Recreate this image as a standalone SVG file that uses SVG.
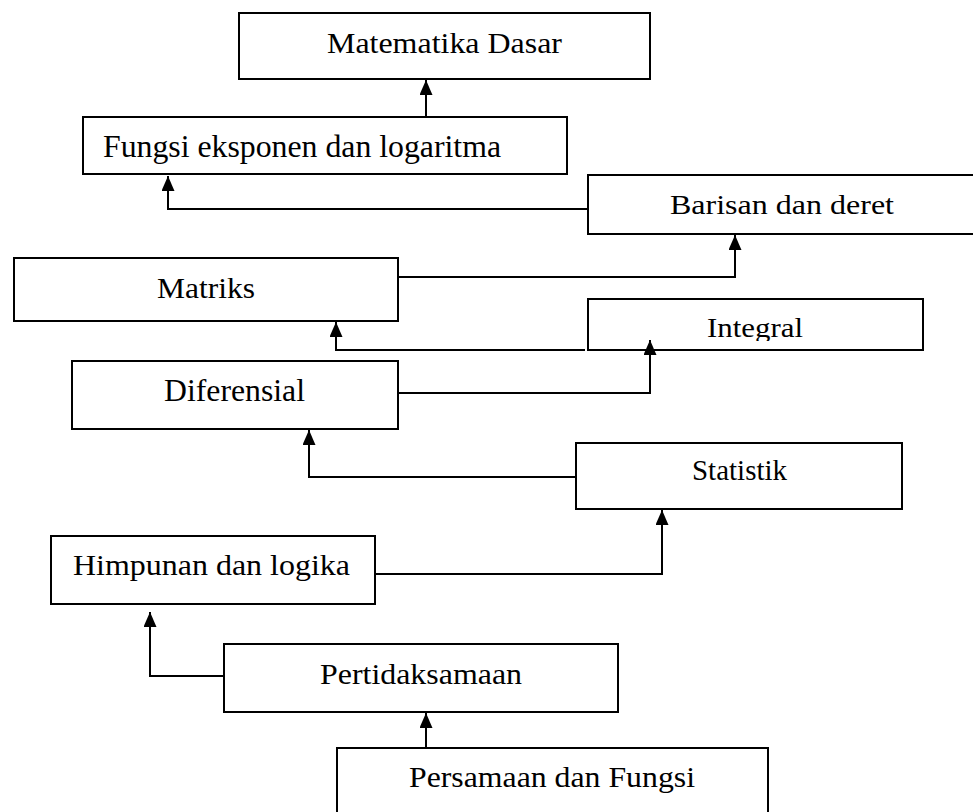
<svg xmlns="http://www.w3.org/2000/svg" width="973" height="812" viewBox="0 0 973 812">
<style>
.box{fill:#fff;stroke:#000;stroke-width:2}
.lbl{fill:#000}
.con{fill:none;stroke:#000;stroke-width:2}
</style>
<defs>
<marker id="ah" markerUnits="userSpaceOnUse" markerWidth="16" markerHeight="13" refX="15" refY="6.5" orient="auto">
<path d="M0,0 L15,6.5 L0,13 z" fill="#000"/>
</marker>
<clipPath id="clipInt"><rect x="589" y="300" width="333" height="41"/></clipPath>
</defs>
<rect width="973" height="812" fill="#fff"/>
<g font-family="'Liberation Serif', Tinos, 'Times New Roman', Times, serif">
<g id="n-matematika">
<rect class="box" x="239" y="13" width="411" height="66"/>
<text class="lbl" x="327" y="53" font-size="29" textLength="235" lengthAdjust="spacingAndGlyphs">Matematika Dasar</text>
</g>
<g id="n-fungsi">
<rect class="box" x="83" y="117" width="484" height="57"/>
<text class="lbl" x="103" y="157" font-size="31" textLength="398" lengthAdjust="spacingAndGlyphs">Fungsi eksponen dan logaritma</text>
</g>
<g id="n-barisan">
<rect class="box" x="588" y="175" width="400" height="59"/>
<text class="lbl" x="670" y="214" font-size="28" textLength="224" lengthAdjust="spacingAndGlyphs">Barisan dan deret</text>
</g>
<g id="n-matriks">
<rect class="box" x="14" y="258" width="384" height="63"/>
<text class="lbl" x="157" y="298" font-size="29" textLength="98" lengthAdjust="spacingAndGlyphs">Matriks</text>
</g>
<g id="n-integral">
<rect class="box" x="588" y="299" width="335" height="51"/>
<text class="lbl" x="707" y="337" font-size="28" textLength="96" lengthAdjust="spacingAndGlyphs" clip-path="url(#clipInt)">Integral</text>
</g>
<g id="n-diferensial">
<rect class="box" x="72" y="361" width="326" height="68"/>
<text class="lbl" x="164" y="401" font-size="31" textLength="141" lengthAdjust="spacingAndGlyphs">Diferensial</text>
</g>
<g id="n-statistik">
<rect class="box" x="576" y="443" width="326" height="66"/>
<text class="lbl" x="692" y="480" font-size="29" textLength="95" lengthAdjust="spacingAndGlyphs">Statistik</text>
</g>
<g id="n-himpunan">
<rect class="box" x="51" y="536" width="324" height="68"/>
<text class="lbl" x="73" y="575" font-size="30" textLength="277" lengthAdjust="spacingAndGlyphs">Himpunan dan logika</text>
</g>
<g id="n-pertidaksamaan">
<rect class="box" x="224" y="644" width="394" height="68"/>
<text class="lbl" x="320" y="684" font-size="29" textLength="202" lengthAdjust="spacingAndGlyphs">Pertidaksamaan</text>
</g>
<g id="n-persamaan">
<rect class="box" x="337" y="748" width="431" height="90"/>
<text class="lbl" x="409" y="787" font-size="29" textLength="286" lengthAdjust="spacingAndGlyphs">Persamaan dan Fungsi</text>
</g>
</g>
<g id="connectors">
<path class="con" d="M426,117 V80" marker-end="url(#ah)"/>
<path class="con" d="M588,209 H168 V176" marker-end="url(#ah)"/>
<path class="con" d="M398,277 H735 V235" marker-end="url(#ah)"/>
<path class="con" d="M585,350 H336 V322" marker-end="url(#ah)"/>
<path class="con" d="M398,393 H650 V340" marker-end="url(#ah)"/>
<path class="con" d="M576,477 H309 V430" marker-end="url(#ah)"/>
<path class="con" d="M375,574 H662 V510" marker-end="url(#ah)"/>
<path class="con" d="M224,676 H150 V612" marker-end="url(#ah)"/>
<path class="con" d="M426,748 V713" marker-end="url(#ah)"/>
</g>
</svg>
